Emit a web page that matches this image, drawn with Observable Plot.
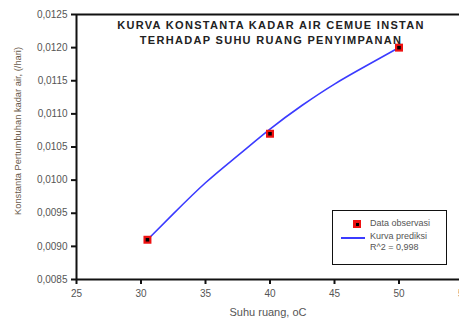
<!DOCTYPE html>
<html><head><meta charset="utf-8">
<script src="https://cdn.jsdelivr.net/npm/d3@7"></script>
<script src="https://cdn.jsdelivr.net/npm/@observablehq/plot@0.6"></script>
<style>
html,body{margin:0;padding:0;background:#fff;overflow:hidden;width:459px;height:326px}
#wrap{position:relative;width:459px;height:326px}
#legend{position:absolute;left:332px;top:210px;width:113px;height:53px;border:1.5px solid #111;background:#fff;font-family:Arial,"Liberation Sans",sans-serif;font-size:9px;color:#555}
.row{position:absolute;left:37px;white-space:nowrap}
</style></head>
<body><div id="wrap"></div>
<script>
const titleLines = ["KURVA KONSTANTA KADAR AIR CEMUE INSTAN", "TERHADAP SUHU RUANG PENYIMPANAN"];
const xLabel = "Suhu ruang, oC";
const yLabel = "Konstanta Pertumbuhan kadar air, (/hari)";
const obsTemp = [30.5, 40, 50];
const obsK = [0.0091, 0.0107, 0.0120];
const fitTemp = [30.5, 32.5, 35, 37.5, 40, 42.5, 45, 47.5, 50];
const fitK = [0.00910, 0.00949, 0.00996, 0.01037, 0.01077, 0.01113, 0.01145, 0.01173, 0.01200];
const xTicks = [25, 30, 35, 40, 45, 50, 55];
const yTicks = [0.0085, 0.0090, 0.0095, 0.0100, 0.0105, 0.0110, 0.0115, 0.0120, 0.0125];
const legendLabels = ["Data observasi", "Kurva prediksi", "R^2 = 0,998"];

const obs = obsTemp.map((t, i) => ({t, k: obsK[i]}));
const fit = fitTemp.map((t, i) => ({t, k: fitK[i]}));
const font = "Arial, 'Liberation Sans', sans-serif";
const fmt = d => d3.format(".4f")(d).replace(".", ",");

const chart = Plot.plot({
  width: 459, height: 326,
  marginLeft: 76, marginTop: 14, marginBottom: 47, marginRight: 0,
  style: {fontFamily: font, fontSize: "10px", overflow: "visible", background: "#fff"},
  x: {domain: [25, 55], range: [76, 463]},
  y: {domain: [0.0085, 0.0125]},
  marks: [
    Plot.axisX({ticks: xTicks, tickSize: 5, tickPadding: 5, fill: "#555", stroke: "#111", strokeWidth: 2, fontSize: 10, label: null}),
    Plot.axisY({ticks: yTicks, tickFormat: fmt, tickSize: 5, tickPadding: 4, fill: "#555", stroke: "#111", strokeWidth: 2, fontSize: 10, label: null}),
    Plot.ruleX([25], {stroke: "#111", strokeWidth: 2}),
    Plot.ruleY([0.0085], {stroke: "#111", strokeWidth: 2}),
    Plot.ruleY([0.0125], {stroke: "#111", strokeWidth: 2}),
    Plot.line(fit, {x: "t", y: "k", curve: "natural", stroke: "#3b3bff", strokeWidth: 1.6}),
    Plot.dot(obs, {x: "t", y: "k", symbol: "square", r: 4.5, fill: "#ee1111", stroke: "none"}),
    Plot.dot(obs, {x: "t", y: "k", symbol: "square", r: 2, fill: "#000", stroke: "none"}),
    Plot.text([titleLines[0]], {frameAnchor: "top", dx: 3, dy: 7, fontWeight: "bold", fontSize: 11, fill: "#222", text: d => d}),
    Plot.text([titleLines[1]], {frameAnchor: "top", dx: 3, dy: 22, fontWeight: "bold", fontSize: 11, fill: "#222", text: d => d}),
    Plot.text([xLabel], {frameAnchor: "bottom", dy: 36, fontSize: 11, fill: "#555", text: d => d}),
    Plot.text([yLabel], {frameAnchor: "left", textAnchor: "middle", dx: -58, dy: -16, rotate: -90, fontSize: 9.3, fill: "#6a5a4a", text: d => d})
  ]
});
d3.select(chart).selectAll("text")
  .filter(function() { return titleLines.includes(this.textContent); })
  .style("letter-spacing", "1.3px");
const wrap = document.getElementById("wrap");
wrap.appendChild(chart);

const lg = document.createElement("div");
lg.id = "legend";
lg.innerHTML =
  `<div style="position:absolute;left:20px;top:9px;width:8px;height:8px;background:#ee1111"><div style="position:absolute;left:2.5px;top:2.5px;width:3px;height:3px;background:#000"></div></div>` +
  `<div class="row" style="top:7px">${legendLabels[0]}</div>` +
  `<div style="position:absolute;left:8px;top:26px;width:24px;height:1.6px;background:#3b3bff"></div>` +
  `<div class="row" style="top:20px">${legendLabels[1]}</div>` +
  `<div class="row" style="top:31px">${legendLabels[2]}</div>`;
wrap.appendChild(lg);
</script></body></html>
